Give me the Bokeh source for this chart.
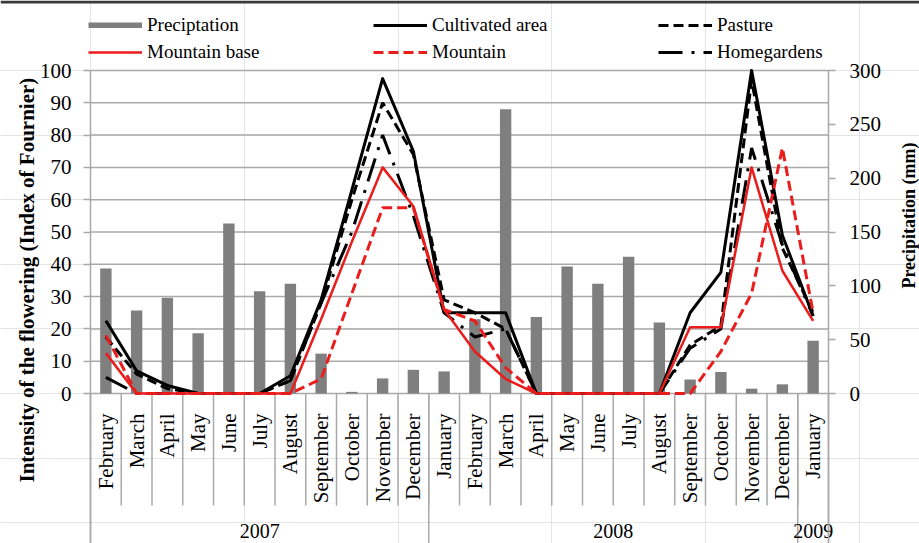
import numpy as np
from math import pi
from bokeh.plotting import figure
from bokeh.models import Range1d, LinearAxis, FixedTicker, Legend, LegendItem
from bokeh.core.properties import value
from bokeh.embed import file_html
from bokeh.resources import INLINE

# ---------------- data ----------------
months = ["February", "March", "April", "May", "June", "July", "August",
          "September", "October", "November", "December",
          "January", "February", "March", "April", "May", "June", "July",
          "August", "September", "October", "November", "December",
          "January"]
years = ["2007"] * 11 + ["2008"] * 12 + ["2009"]

precipitation = [116, 77, 89, 56, 158, 95, 102, 37, 1.5, 14, 22,
                 20.5, 69, 264, 71, 118, 102, 127, 66, 13, 20, 4.5, 8.5,
                 49]
cultivated_area = [22.5, 7, 2.5, 0, 0, 0, 5.5, 29, 63, 97.5, 75,
                   25, 25, 25, 0, 0, 0, 0, 0, 25, 37.5, 100, 49,
                   24]
pasture = [17.5, 6, 1.5, 0, 0, 0, 4, 28, 60, 90, 74,
           29, 25, 20, 0, 0, 0, 0, 0, 15, 21, 97, 45,
           25]
homegardens = [5, 0, 0, 0, 0, 0, 4, 28, 50, 80, 55,
               25, 17.5, 20, 0, 0, 0, 0, 0, 14, 20, 76, 46,
               24]
mountain_base = [12.5, 0, 0, 0, 0, 0, 0, 23, 47, 70, 58,
                 26, 13, 4.5, 0, 0, 0, 0, 0, 20.5, 20.5, 70, 38,
                 22.5]
mountain = [18, 0, 0, 0, 0, 0, 0, 4.5, 31, 57.5, 57.5,
            26, 22.5, 8, 0, 0, 0, 0, 0, 0, 13, 31, 76,
            25]

left_ticks = list(range(0, 101, 10))
right_ticks = list(range(0, 301, 50))

# ---------------- layout / style ----------------
W, H = 919, 543
PX_LEFT, PX_RIGHT = 90, 828     # plot area left / right edge (px)
PX_TOP, PX_ZERO = 70, 393       # value 100 / value 0 (px)

FONT = "Liberation Serif"
GRID = "#a9a9a9"
BAR = "#7f7f7f"
RED = "#ea1c1c"
BLACK = "#000000"

n = len(months)
x = np.arange(n) + 0.5
LMAX = left_ticks[-1]
RMAX = right_ticks[-1]

ux = (PX_RIGHT - PX_LEFT) / n            # px per category
uy = (PX_ZERO - PX_TOP) / LMAX           # px per left-axis unit


def dx(px):
    return (px - PX_LEFT) / ux


def dy(py):
    return (PX_ZERO - py) / uy


x0, x1 = dx(0), dx(W)
y0, y1 = dy(H), dy(0)

p = figure(width=W, height=H,
           x_range=Range1d(x0, x1), y_range=Range1d(y0, y1),
           output_backend="svg", toolbar_location=None,
           x_axis_location=None, y_axis_location=None,
           min_border=0, outline_line_color=None,
           background_fill_color="white", border_fill_color="white")
p.extra_y_ranges = {"precip": Range1d(y0 * RMAX / LMAX, y1 * RMAX / LMAX)}

# thin dark frame line along the top edge (as in the reference image)
p.segment(x0=[x0], x1=[x1], y0=[dy(1.5)], y1=[dy(1.5)], line_color="#3a3a3a", line_width=3)


def style_axis(a, standoff):
    a.axis_line_color = GRID
    a.axis_line_width = 1.5
    a.major_tick_line_color = GRID
    a.major_tick_line_width = 1.5
    a.major_tick_in = 0
    a.major_tick_out = 7
    a.minor_tick_line_color = None
    a.major_label_standoff = standoff
    a.major_label_text_font = FONT
    a.major_label_text_font_size = "21px"
    a.major_label_text_color = BLACK


lax = LinearAxis(ticker=FixedTicker(ticks=left_ticks), fixed_location=0,
                 bounds=(y0, LMAX))
style_axis(lax, 12)
p.add_layout(lax, "left")

rax = LinearAxis(y_range_name="precip", ticker=FixedTicker(ticks=right_ticks),
                 fixed_location=n, bounds=(y0 * RMAX / LMAX, RMAX))
style_axis(rax, 14)
p.add_layout(rax, "right")

# horizontal gridlines at the left-axis ticks, across the plot area only
p.segment(x0=0, x1=n, y0=left_ticks, y1=left_ticks, line_color=GRID, line_width=1.5)

# ---------------- category axis (drawn as glyphs) ----------------
bounds = np.arange(1, n)
p.segment(x0=bounds, y0=0, x1=bounds, y1=dy(505), line_color=GRID, line_width=1.5)

year_edges = [0] + [i for i in range(1, n) if years[i] != years[i - 1]] + [n]
p.segment(x0=year_edges, y0=0, x1=year_edges, y1=y0, line_color=GRID, line_width=1.5)

p.text(x=x, y=dy(PX_ZERO + 20), text=months, angle=pi / 2, text_align="right",
       text_baseline="middle", text_font=value(FONT), text_font_size="21px",
       text_color=BLACK)

year_labels = [years[a] for a in year_edges[:-1]]
year_x = [(a + b) / 2 for a, b in zip(year_edges[:-1], year_edges[1:])]
p.text(x=year_x, y=dy(530), text=year_labels, text_align="center",
       text_baseline="middle", text_font=value(FONT), text_font_size="20px",
       text_color=BLACK)

# ---------------- data glyphs ----------------
p.vbar(x=x, top=precipitation, width=0.37, y_range_name="precip",
       fill_color=BAR, line_color=None)
# legend proxy for the bars (a single NaN point draws nothing in the plot)
r_precip = p.line(x=[np.nan], y=[np.nan], line_color=BAR, line_width=6)

r_cult = p.line(x, cultivated_area, line_color=BLACK, line_width=3, line_join="round")
r_past = p.line(x, pasture, line_color=BLACK, line_width=3, line_dash="10 5")
r_home = p.line(x, homegardens, line_color=BLACK, line_width=3, line_dash="24 9 3 9")
r_mbase = p.line(x, mountain_base, line_color=RED, line_width=2.5, line_join="round")
r_mount = p.line(x, mountain, line_color=RED, line_width=3, line_dash="10 5")

LEG_H = 49
legend = Legend(items=[
    LegendItem(label="Preciptation", renderers=[r_precip]),
    LegendItem(label="Cultivated area", renderers=[r_cult]),
    LegendItem(label="Pasture", renderers=[r_past]),
    LegendItem(label="Mountain base", renderers=[r_mbase]),
    LegendItem(label="Mountain", renderers=[r_mount]),
    LegendItem(label="Homegardens", renderers=[r_home]),
], orientation="horizontal", ncols=3, location=(88, H - 14 - LEG_H),
    glyph_width=54, glyph_height=6, label_width=221, label_height=20,
    label_standoff=5, spacing=5, padding=0, margin=0,
    border_line_color=None, background_fill_alpha=0,
    label_text_font=FONT, label_text_font_size="19px",
    label_text_color=BLACK)
p.add_layout(legend)

# axis titles
p.text(x=[dx(26)], y=[dy(482)], text=["Intensity of the flowering (Index of Fournier)"],
       angle=pi / 2, text_align="left", text_baseline="middle",
       text_font=value(FONT), text_font_size="21px", text_font_style="bold",
       text_color=BLACK)
p.text(x=[dx(908)], y=[dy(215)], text=["Precipitation (mm)"],
       angle=pi / 2, text_align="center", text_baseline="middle",
       text_font=value(FONT), text_font_size="18px", text_font_style="bold",
       text_color=BLACK)

open("out.html", "w").write(file_html(p, INLINE))
